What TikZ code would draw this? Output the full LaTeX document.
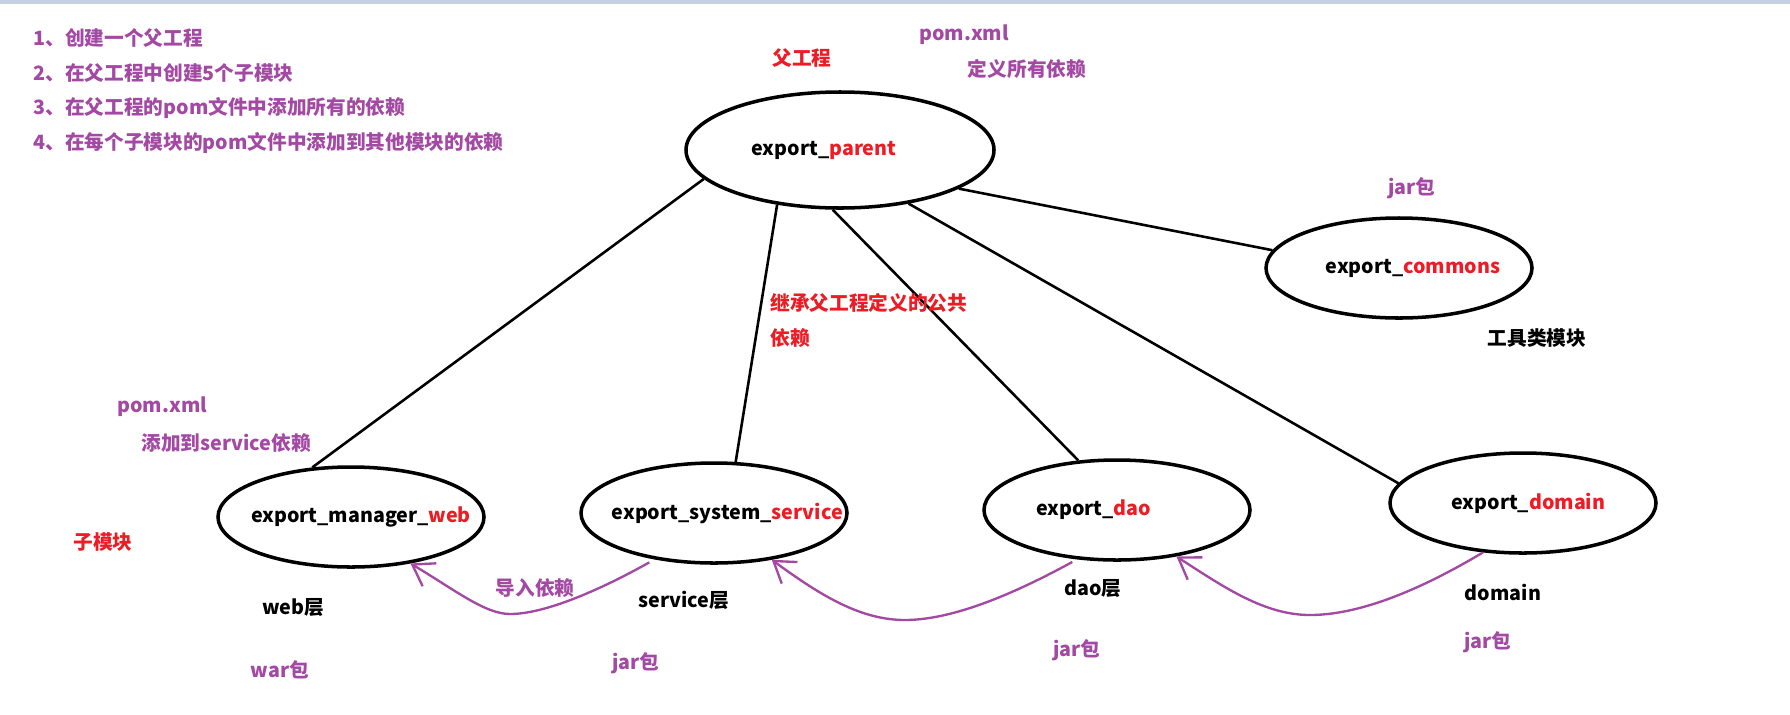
\documentclass[tikz,border=0pt]{standalone}
\usepackage{fontspec}
\setmainfont{Noto Sans CJK SC}
\usetikzlibrary{shapes.geometric, arrows.meta}

\definecolor{mpurple}{RGB}{163,73,164}
\definecolor{mred}{RGB}{237,28,36}
\definecolor{topbar}{RGB}{197,207,225}

% module label, optionally moved sideways inside its ellipse
\newcommand{\modname}[3][0pt]{\makebox[0pt]{\hspace*{#1}export\_#2\textcolor{mred}{#3}\hspace*{-#1}}}

\tikzset{
  every node/.style={font=\bfseries\fontsize{8.4}{10}\selectfont, inner sep=0pt},
  module/.style={ellipse, draw, line width=1.5pt, minimum width=3.99cm, minimum height=1.5cm},
  link/.style={line width=1.1pt},
  dep/.style={mpurple, line width=1pt, -{Straight Barb[length=0.3cm, width=0.4cm]}},
  note/.style={mpurple},
  hint/.style={mred},
}

\begin{document}
\begin{tikzpicture}[x=0.015cm, y=-0.015cm]
    \useasboundingbox (0,0) rectangle (1790,714);
    \fill[white] (0,0) rectangle (1790,714);
    \fill[topbar] (0,0) rectangle (1790,4);

    % Steps
    \foreach \i/\txt in {1/创建一个父工程, 2/在父工程中创建5个子模块, 3/在父工程的pom文件中添加所有的依赖, 4/在每个子模块的pom文件中添加到其他模块的依赖}
        \node[note, anchor=west] (step\i) at (33, 3+35*\i) {\i、\txt};

    % Parent project
    \node[module, minimum width=4.62cm, minimum height=1.74cm] (parent) at (840,150) {\modname[-0.24cm]{}{parent}};
    \node[hint] (parenttag) at (802,58) {父工程};
    \node[note] (parentpom) at (964,35) {pom.xml};
    \node[note] (parentdeps) at (1027,69) {定义所有依赖};

    % Sub modules
    \node[module] (web) at (351,517) {\modname[0.15cm]{manager\_}{web}};
    \node[module] (service) at (714,513) {\modname[0.2cm]{system\_}{service}};
    \node[module] (dao) at (1117,510) {\modname[-0.35cm]{}{dao}};
    \node[module] (domain) at (1523,503) {\modname[0.08cm]{}{domain}};
    \node[module] (commons) at (1399,268) {\modname[0.21cm]{}{commons}};

    % Inheritance
    \draw[link] (parent.192) -- (web.128);
    \draw[link] (parent.221) -- (service.67);
    \draw[link] (parent.263) -- (dao.128);
    \draw[link] (parent.322) -- (domain.171);
    \draw[link] (parent.342) -- (commons.172);
    \node[hint, anchor=west] (inherit) at (770,303) {继承父工程定义的公共};
    \node[hint, anchor=west] (inherit2) at (770,338) {依赖};

    % Commons
    \node[note] (jarcommons) at (1412,188) {jar包};
    \node (toolmod) at (1537,338) {工具类模块};

    % Dependencies between modules
    \draw[dep, shorten <=0.09cm] (service.218) .. controls (600,590) and (545,614) .. (510,614) .. controls (485,614) and (455,590) .. (web.322);
    \draw[dep, shorten <=0.08cm] (dao.231) .. controls (1030,585) and (960,620) .. (905,620) .. controls (860,620) and (820,595) .. (service.321);
    \draw[dep] (domain.231) .. controls (1440,578) and (1370,615) .. (1310,615) .. controls (1265,615) and (1225,588) .. (dao.322);
    \node[note] (importdeps) at (535,588) {导入依赖};

    % Web module notes
    \node[note, anchor=west] (webpom) at (117,407) {pom.xml};
    \node[note, anchor=west] (webdeps) at (141,443) {添加到service依赖};
    \node[hint] (submods) at (103,542) {子模块};

    % Layers and packaging
    \node (weblayer) at (293,608) {web层};
    \node[note] (warpkg) at (280,670) {war包};
    \node (servicelayer) at (684,600) {service层};
    \node[note] (jarservice) at (636,663) {jar包};
    \node (daolayer) at (1093,589) {dao层};
    \node[note] (jardao) at (1077,650) {jar包};
    \node (domainname) at (1503,592) {domain};
    \node[note] (jardomain) at (1488,642) {jar包};
\end{tikzpicture}
\end{document}
